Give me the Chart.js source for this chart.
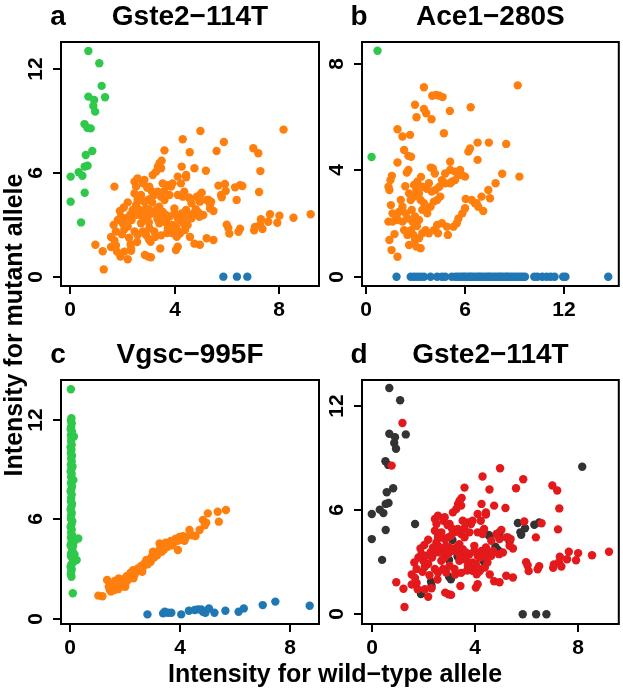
<!DOCTYPE html>
<html>
<head>
<meta charset="utf-8">
<script src="https://cdn.jsdelivr.net/npm/chart.js@4/dist/chart.umd.min.js"></script>
<style>
  html, body { margin: 0; padding: 0; background: #fff; }
  #wrap { position: relative; width: 623px; height: 689px; }
  #wrap canvas { position: absolute; left: 0; top: 0; }
</style>
</head>
<body>
<div id="wrap">
  <canvas id="pa" width="623" height="689"></canvas>
  <canvas id="pb" width="623" height="689"></canvas>
  <canvas id="pc" width="623" height="689"></canvas>
  <canvas id="pd" width="623" height="689"></canvas>
</div>
<script>
// Gste2-114T: orange cluster (heterozygous) split by its colour in panel d
const gsteOrangeRed = [
  [4.99,8.43],[4.31,7.95],[5.89,7.79],[3.61,7.31],[4.58,7.20],[5.61,7.27],[7.02,7.43],[7.21,7.14],[3.50,6.71],[4.27,6.37],
  [4.76,6.27],[5.20,6.13],[7.29,6.11],[3.36,6.37],[4.44,5.88],[4.44,5.75],[5.93,5.36],[6.60,5.25],[7.24,4.90],[6.38,4.44],
  [5.04,4.86],[5.30,4.44],[5.40,4.34],[5.49,3.80],[7.66,3.61],[8.02,3.53],[8.56,3.41],[9.22,3.61],[7.31,3.32],[7.59,3.18],
  [7.94,3.12],[7.28,3.01],[7.37,2.76],[7.08,2.87],[7.05,2.68],[6.00,3.01],[6.06,2.82],[6.10,2.49],[6.51,2.78],[6.45,2.60],
  [4.59,2.30],[4.76,1.91],[4.97,1.85],[5.23,2.22],[5.49,2.12],[1.28,0.42],[0.96,1.85],[1.24,1.47],[1.56,1.72],[1.75,1.81],
  [1.79,1.45],[2.07,1.45],[2.20,1.01],[2.33,1.50],[2.56,2.01],[2.86,1.25],[2.99,1.16],[3.09,1.12],[3.45,1.63],[3.25,2.30],
  [3.48,2.39],[3.71,2.53],[4.05,1.54],[4.12,1.73],[3.92,2.51],[4.12,2.41],[1.66,2.99],[1.75,2.61],[1.82,3.28],[2.01,3.09],
  [2.07,2.74],[2.20,2.90],[1.56,2.30],[1.69,2.10],[1.94,3.47],[2.13,3.38],[2.35,3.28],[2.48,3.57],[2.39,3.86],[2.52,4.15],
  [2.58,4.44],[2.71,4.73],[2.46,4.82],[2.52,5.21],[2.46,5.50],[2.58,5.69],[2.84,5.60],[3.03,5.21],[3.16,5.88],[3.29,6.08],
  [3.48,6.27],[3.42,6.56],[3.54,5.40],[3.74,5.30],[3.86,5.21],[3.92,5.40],[4.12,5.79],[4.24,5.40],[4.37,4.92],[4.31,4.63],
  [4.12,4.73],[3.35,4.92],[3.48,4.63],[3.22,4.73],[3.61,4.44],[3.80,4.73],[3.99,3.95],[3.99,3.66],[4.12,3.38],[4.50,2.99],
  [4.44,3.86],[4.50,3.57],[2.58,4.63],[2.71,4.44],[2.84,4.34],[2.97,4.44],[3.09,4.53],[2.90,3.95],[3.03,3.86],[2.78,3.76],
  [2.65,3.57],[3.16,3.66],[3.29,3.86],[3.41,4.05],[3.54,3.76],[3.41,3.47],[2.97,3.47],[2.84,3.28],[2.71,3.09],[3.03,2.80],
  [2.78,2.61],[2.58,2.41],[2.46,2.61],[2.90,2.41],[3.22,2.61],[3.41,3.09],[3.67,3.18],[3.80,3.47],[3.67,3.57],[3.74,2.80],
  [3.92,2.99],[3.61,3.18],[4.05,2.90],[4.18,2.61],[4.65,4.24],[4.85,4.63],[4.97,4.34],[5.23,4.44],[5.36,3.95],[4.72,3.66],
  [4.65,3.38],[4.40,2.70],[4.21,2.51],[4.08,2.31],[4.27,3.66],[4.40,3.38],[4.21,3.28],[4.95,3.47],[5.10,3.57],[2.20,4.30],
  [2.05,4.00],[1.90,3.80],[2.79,5.40],[2.95,5.15],[2.30,3.60],[2.62,3.90],[3.12,4.95],[3.60,4.95],[2.25,2.25],[1.98,2.45]
];
const gsteOrangeDark = [
  [8.18,8.51],[5.68,5.27],[5.78,4.73],[5.81,4.59],[5.96,4.96],[6.32,5.17],[6.51,5.30],[4.97,4.73],[4.93,4.52],[4.58,4.52],
  [4.81,3.90],[4.91,3.71],[4.96,3.61],[4.42,3.04],[5.36,4.19],[1.69,5.21],[3.14,4.29],[3.01,3.13],[3.34,3.33],[3.46,3.23],
  [3.01,2.17],[3.08,2.02],[2.31,1.88],[2.33,1.63],[1.92,1.17],[3.85,2.84],[4.23,3.42],[4.36,3.04],[4.55,4.58]
];
const gsteGreenDark = [
  [0.69,13.06],[1.11,12.35],[1.33,10.38],[0.69,10.42],[0.91,10.22],[0.88,9.88],[0.95,9.55],[0.54,8.83],[0.65,8.62],[0.84,7.27],
  [0.59,7.04],[0.66,6.42],[0.55,6.37],[0.32,6.04],[0.46,5.84],[0.01,5.79],[0.55,4.86],[0.01,4.34],[0.41,3.14]
];
const gsteGreenRed = [[1.20,11.04],[0.78,8.58]];
const gsteBlue = [[5.87,0],[6.39,0],[6.79,0]];
const gsteXTicks = [0, 4, 8];
const gsteYTicks = [0, 6, 12];

// Ace1-280S
const aceGreen = [[0.72,8.49],[0.36,4.50]];
const aceOrange = [
  [9.21,7.19],[3.53,7.12],[4.03,6.80],[4.27,6.83],[4.46,6.80],[4.66,6.75],[2.99,6.46],[3.53,6.30],[3.67,6.14],[3.08,5.99],
  [3.99,5.92],[5.10,6.23],[6.36,6.37],[1.93,5.54],[2.23,5.27],[2.69,5.33],[4.74,5.39],[2.33,4.76],[2.59,4.54],[2.75,4.51],
  [1.93,4.29],[2.49,3.91],[2.59,4.01],[1.50,3.63],[1.59,3.79],[1.38,3.38],[1.44,3.26],[1.53,2.69],[1.38,2.07],[1.44,1.38],
  [1.57,1.00],[1.93,0.75],[1.63,2.07],[1.93,2.13],[2.23,2.07],[2.53,2.19],[2.33,1.75],[2.63,1.69],[2.53,1.57],[2.63,1.19],
  [2.99,1.38],[3.23,1.44],[3.07,1.13],[3.33,1.07],[2.79,2.51],[2.99,2.26],[3.23,2.13],[2.75,1.75],[2.89,1.57],[3.43,1.63],
  [3.63,1.75],[3.83,1.63],[4.13,1.75],[4.33,1.94],[4.62,2.01],[4.92,1.88],[5.32,1.88],[5.52,2.01],[5.62,2.19],[5.86,2.38],
  [6.02,2.57],[6.42,2.88],[6.62,2.76],[4.38,1.63],[4.98,1.57],[2.63,3.13],[2.73,2.88],[2.93,3.01],[3.07,3.26],[3.23,3.13],
  [3.33,2.88],[3.53,2.76],[3.67,2.57],[3.43,2.51],[3.73,2.38],[3.93,2.63],[4.13,2.82],[4.33,2.88],[4.52,3.01],[4.23,3.26],
  [4.46,3.38],[4.62,3.63],[4.82,3.51],[5.12,3.51],[5.22,3.57],[5.42,3.63],[5.62,3.82],[5.82,3.82],[6.02,3.76],[5.72,4.01],
  [5.42,3.95],[5.12,4.01],[4.82,3.88],[4.07,4.07],[4.19,3.88],[3.83,3.51],[3.43,3.38],[3.13,3.57],[2.93,3.45],[2.23,2.63],
  [2.43,2.38],[2.03,2.44],[1.87,2.26],[1.63,2.38],[2.13,2.88],[5.12,4.32],[6.22,4.70],[6.32,4.82],[6.78,5.04],[7.46,5.04],
  [8.51,4.99],[6.78,4.39],[8.27,3.87],[9.31,3.76],[7.87,3.51],[7.43,3.26],[7.53,2.95],[7.02,3.01],[6.72,2.76],[6.82,2.63],
  [7.12,2.47],[6.06,2.92],[3.35,3.75],[3.70,3.30],[2.85,2.05],[3.10,1.90],[4.00,3.20],[3.95,4.10],[2.40,3.40],[1.75,1.60]
];
const aceBlueX = [
  1.87,2.73,2.93,3.13,3.33,3.53,3.93,4.33,4.62,4.82,5.22,5.45,5.60,5.75,5.90,6.00,6.15,6.30,6.40,6.55,
  6.70,6.85,6.95,7.10,7.25,7.40,7.50,7.65,7.80,7.95,8.10,8.20,8.35,8.50,8.60,8.75,8.90,9.05,9.20,9.35,
  9.50,9.65,10.21,10.40,10.70,10.96,11.20,11.44,11.96,12.10,14.69
];
const aceXTicks = [0, 6, 12];
const aceYTicks = [0, 4, 8];

// Vgsc-995F
const vgscGreen = [
  [0.02,13.85],[0.04,12.10],[0.02,11.95],[0.05,11.80],[0.03,11.60],[0.01,11.45],[0.06,11.30],[0.13,11.00],[0.02,11.10],[0.04,10.90],
  [0.03,10.70],[0.05,10.50],[0.01,10.35],[0.04,10.20],[0.02,10.00],[0.06,9.85],[0.03,9.70],[0.05,9.50],[0.08,9.19],[0.02,9.30],
  [0.04,9.05],[0.01,8.90],[0.05,8.75],[0.11,8.38],[0.03,8.55],[0.02,8.20],[0.06,8.00],[0.04,7.85],[0.01,7.70],[0.05,7.50],
  [0.03,7.30],[0.02,7.10],[0.06,6.95],[0.04,6.80],[0.01,6.60],[0.05,6.40],[0.03,6.25],[0.02,6.05],[0.07,5.90],[0.04,5.70],
  [0.01,5.55],[0.05,5.40],[0.03,5.20],[0.06,5.05],[0.29,4.86],[0.02,4.90],[0.15,4.70],[0.04,4.60],[0.01,4.45],[0.05,4.30],
  [0.08,4.10],[0.03,3.95],[0.02,3.80],[0.06,3.70],[0.23,3.56],[0.12,3.45],[0.04,3.30],[0.01,3.15],[0.05,3.00],[0.03,2.85],
  [0.02,2.70],[0.04,2.55],[0.09,1.55],[0.10,4.40],[0.15,3.90]
];
const vgscOrange = [
  [1.02,1.41],[1.17,1.37],[1.34,2.35],[1.40,1.95],[1.44,1.75],[1.52,1.85],[1.56,2.05],[1.60,1.75],[1.65,1.95],[1.70,2.20],
  [1.74,1.80],[1.80,2.15],[1.84,1.95],[1.88,2.35],[1.92,2.10],[1.98,2.45],[2.02,2.20],[2.06,2.60],[2.10,2.35],[2.15,2.50],
  [2.20,2.80],[2.25,2.55],[2.29,2.95],[2.35,2.70],[2.40,2.85],[2.46,3.05],[2.53,2.95],[2.58,3.20],[2.64,3.10],[2.70,3.35],
  [2.77,3.56],[2.82,3.30],[2.88,3.60],[2.93,3.45],[2.98,3.80],[3.01,4.06],[3.05,3.70],[3.10,3.95],[3.16,3.85],[3.22,4.10],
  [3.25,4.56],[3.28,4.30],[3.33,4.05],[3.38,4.40],[3.42,4.20],[3.47,4.60],[3.50,4.56],[3.55,4.35],[3.60,4.50],[3.66,4.70],
  [3.72,4.45],[3.78,4.65],[3.84,4.85],[3.92,4.72],[3.92,4.16],[3.98,4.95],[4.05,4.80],[4.10,5.00],[4.16,4.72],[4.22,4.95],
  [4.34,5.37],[4.45,5.05],[4.56,5.00],[4.71,5.37],[4.83,5.97],[4.90,5.65],[4.95,5.81],[5.01,6.37],[5.37,6.47],[5.41,5.87],
  [5.67,6.57],[1.48,1.65],[1.62,2.30],[1.76,2.45],[2.00,1.95],[2.30,2.45],[2.62,2.85]
];
const vgscBlue = [
  [2.81,0.28],[3.38,0.34],[3.44,0.44],[3.56,0.38],[3.68,0.38],[4.04,0.28],[4.32,0.50],[4.53,0.54],[4.65,0.58],[4.77,0.58],
  [4.83,0.44],[4.92,0.38],[5.05,0.64],[5.25,0.38],[5.65,0.50],[6.13,0.44],[6.32,0.64],[7.01,0.84],[7.47,1.05],[8.72,0.80]
];
const vgscXTicks = [0, 4, 8];
const vgscYTicks = [0, 6, 12];

const ORANGE = '#ff7f0e';
const GREEN = '#2ec94b';
const BLUE = '#1f77b4';
const RED = '#e3191c';
const DARK = '#333333';
const FONT = '"Liberation Sans", Arial, Helvetica, sans-serif';

const pts = arr => arr.map(p => ({ x: p[0], y: p[1] }));

const frame = {
  id: 'frame',
  afterDraw(chart, args, o) {
    const { ctx, chartArea: a, scales: { x, y } } = chart;
    ctx.save();
    ctx.strokeStyle = '#000';
    ctx.lineWidth = 2;
    ctx.strokeRect(a.left, a.top, a.right - a.left, a.bottom - a.top);
    ctx.fillStyle = '#000';
    ctx.font = 'bold 21px ' + FONT;
    ctx.textAlign = 'center';
    ctx.textBaseline = 'middle';
    o.xTicks.forEach(v => {
      const px = Math.round(x.getPixelForValue(v));
      ctx.beginPath(); ctx.moveTo(px, a.bottom); ctx.lineTo(px, a.bottom + 8); ctx.stroke();
      ctx.fillText(String(v), px, a.bottom + 24);
    });
    o.yTicks.forEach(v => {
      const py = Math.round(y.getPixelForValue(v));
      ctx.beginPath(); ctx.moveTo(a.left - 8, py); ctx.lineTo(a.left, py); ctx.stroke();
      ctx.save();
      ctx.translate(a.left - 25, py);
      ctx.rotate(-Math.PI / 2);
      ctx.fillText(String(v), 0, 0);
      ctx.restore();
    });
    ctx.font = 'bold 28px ' + FONT;
    ctx.textBaseline = 'alphabetic';
    ctx.fillText(o.title, (a.left + a.right) / 2, a.top - 17);
    ctx.fillText(o.letter, a.left - 3, a.top - 17);
    if (o.axisTitles) {
      ctx.font = 'bold 25px ' + FONT;
      ctx.fillText('Intensity for wild\u2212type allele', 335, 682);
      ctx.save();
      ctx.translate(22, 325);
      ctx.rotate(-Math.PI / 2);
      ctx.fillText('Intensity for mutant allele', 0, 0);
      ctx.restore();
    }
    ctx.restore();
  }
};

function scatter(id, box, xr, yr, datasets, frameOpts) {
  new Chart(document.getElementById(id), {
    type: 'scatter',
    data: {
      datasets: datasets.map(d => ({
        data: pts(d.data),
        backgroundColor: d.color,
        borderWidth: 0,
        pointRadius: 4.2,
        pointHoverRadius: 4.2
      }))
    },
    options: {
      responsive: false,
      animation: false,
      events: [],
      layout: { padding: { left: box[0], top: box[1], right: 623 - box[2], bottom: 689 - box[3] } },
      scales: {
        x: { type: 'linear', display: false, min: xr[0], max: xr[1] },
        y: { type: 'linear', display: false, min: yr[0], max: yr[1] }
      },
      plugins: { legend: { display: false }, tooltip: { enabled: false }, frame: frameOpts }
    },
    plugins: [frame]
  });
}

scatter('pa', [61, 42, 319, 286], [-0.36, 9.54], [-0.54, 13.58], [
  { data: gsteGreenDark.concat(gsteGreenRed), color: GREEN },
  { data: gsteOrangeRed.concat(gsteOrangeDark), color: ORANGE },
  { data: gsteBlue, color: BLUE }
], { title: 'Gste2\u2212114T', letter: 'a', xTicks: gsteXTicks, yTicks: gsteYTicks });

scatter('pb', [362, 42, 622, 286], [-0.22, 15.33], [-0.35, 8.82], [
  { data: aceGreen, color: GREEN },
  { data: aceOrange, color: ORANGE },
  { data: aceBlueX.map(v => [v, 0]), color: BLUE }
], { title: 'Ace1\u2212280S', letter: 'b', xTicks: aceXTicks, yTicks: aceYTicks });

scatter('pc', [61, 380, 319, 624], [-0.34, 9.06], [-0.30, 14.41], [
  { data: vgscGreen, color: GREEN },
  { data: vgscOrange, color: ORANGE },
  { data: vgscBlue, color: BLUE }
], { title: 'Vgsc\u2212995F', letter: 'c', xTicks: vgscXTicks, yTicks: vgscYTicks });

scatter('pd', [362, 380, 622, 624], [-0.37, 9.6], [-0.56, 13.52], [
  { data: gsteOrangeRed.concat(gsteGreenRed), color: RED },
  { data: gsteOrangeDark.concat(gsteGreenDark, gsteBlue), color: DARK }
], { title: 'Gste2\u2212114T', letter: 'd', xTicks: gsteXTicks, yTicks: gsteYTicks, axisTitles: true });
</script>
</body>
</html>
